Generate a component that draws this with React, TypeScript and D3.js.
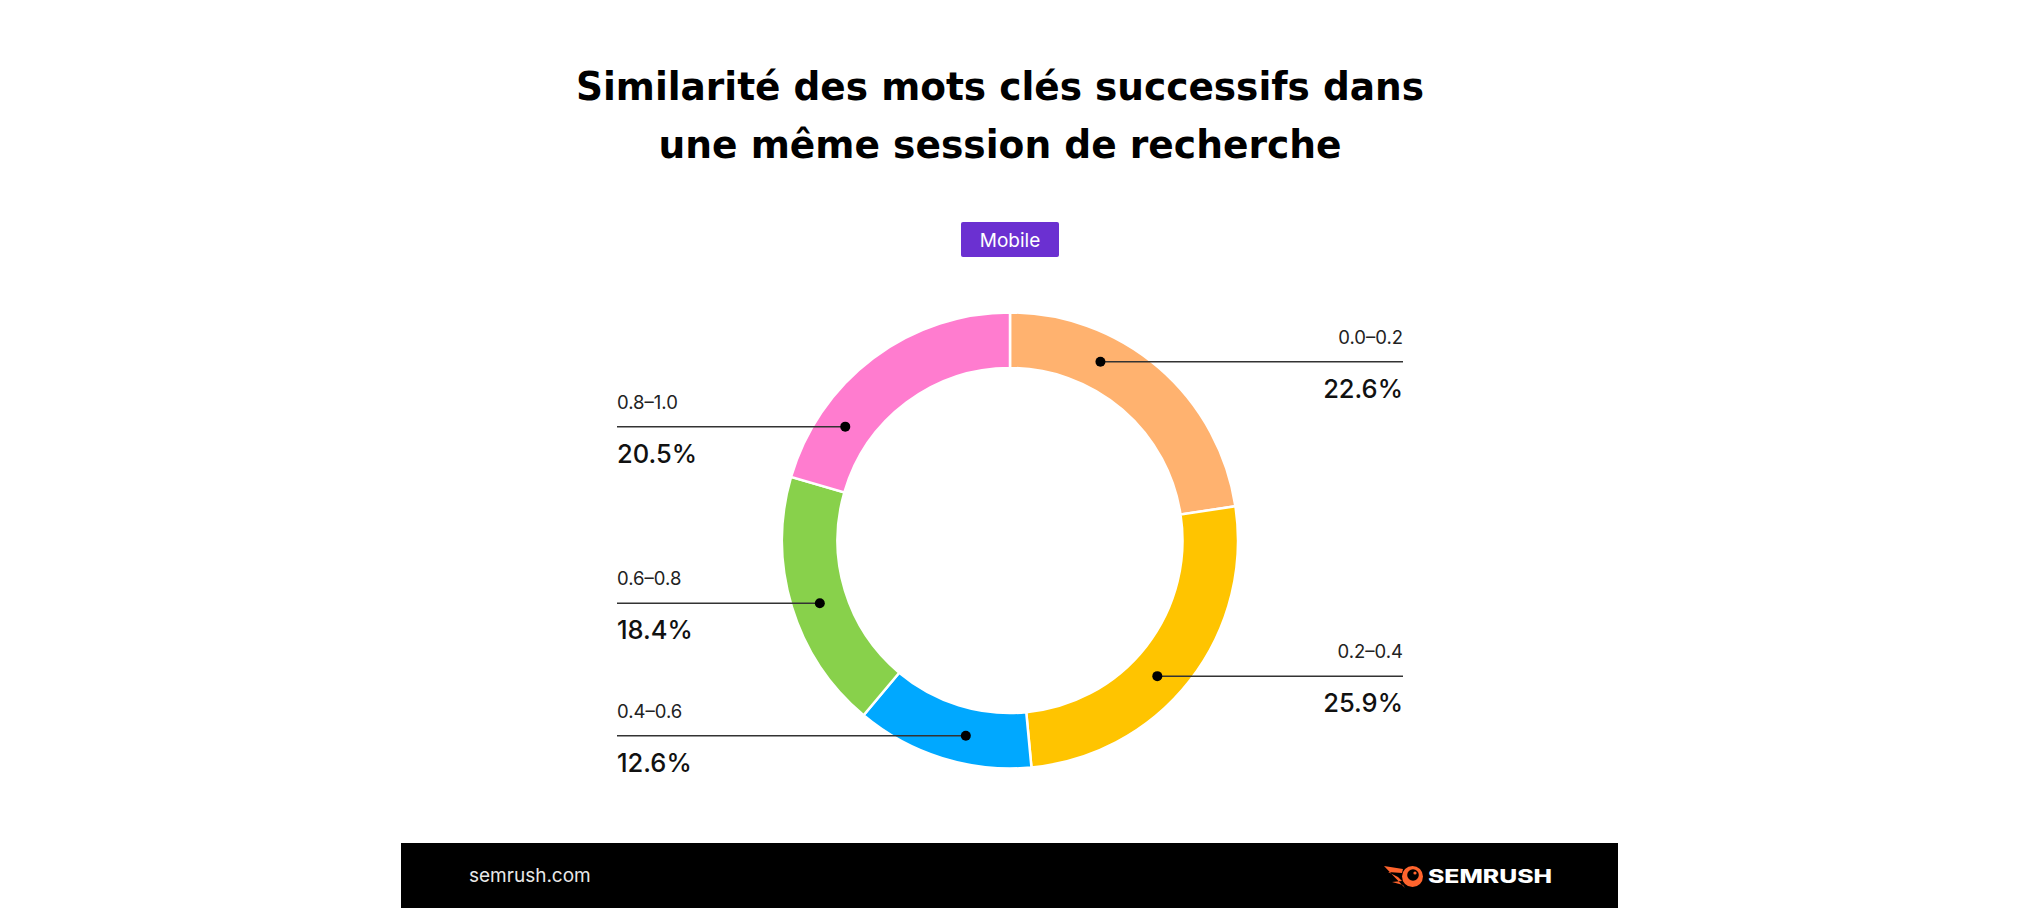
import React from "react";
import * as d3 from "d3";

// data
const categories = ["0.0–0.2", "0.2–0.4", "0.4–0.6", "0.6–0.8", "0.8–1.0"];
const shares = [22.6, 25.9, 12.6, 18.4, 20.5];
// where the leader dot sits inside each slice (0 = start, 1 = end)
const dotFraction = [0.33, 0.55, 0.4, 0.48, 0.25];
const sliceColors = ["#FFB26F", "#FFC400", "#00A8FF", "#88D14B", "#FF7CCF"];

const titleLines = ["Similarité des mots clés successifs dans", "une même session de recherche"];

const W = 2020;
const H = 908;
const cx = 1010;
const cy = 540.5;
const inner = 172.5;
const outer = 228;
const font = "Inter, 'Noto Sans', sans-serif";

function App() {
  const pie = d3
    .pie<number>()
    .sort(null)
    .value((d) => d)
    .startAngle(0)
    .endAngle(2 * Math.PI);
  const arcs = pie(shares);
  const arc = d3.arc<d3.PieArcDatum<number>>().innerRadius(inner).outerRadius(outer);
  const midR = (inner + outer) / 2;

  // leader lines end at these x's (left / right label columns)
  const leftX = 617;
  const rightX = 1403;

  return (
    <svg
      width={W}
      height={H}
      style={{ position: "absolute", left: 0, top: 0, background: "#fff" }}
      fontFamily={font}
    >
      {/* title */}
      <g fontFamily="'DejaVu Sans', sans-serif" fontWeight={700} fontSize={39} fill="#000" textAnchor="middle">
        <text x={1000} y={100} textLength={848} lengthAdjust="spacingAndGlyphs">
          {titleLines[0]}
        </text>
        <text x={1000} y={158} textLength={683} lengthAdjust="spacingAndGlyphs">
          {titleLines[1]}
        </text>
      </g>

      {/* device tag */}
      <rect x={961} y={222} width={98} height={35} rx={2} fill="#6B30D1" />
      <text x={1010} y={246.5} textAnchor="middle" fontSize={19} fill="#fff">
        Mobile
      </text>

      {/* donut */}
      <g transform={`translate(${cx},${cy})`}>
        {arcs.map((a, i) => (
          <path key={i} d={arc(a) || ""} fill={sliceColors[i]} stroke="#fff" strokeWidth={2.5} />
        ))}
      </g>

      {/* leaders + labels */}
      {arcs.map((a, i) => {
        const ang = a.startAngle + dotFraction[i] * (a.endAngle - a.startAngle);
        const dx = cx + midR * Math.sin(ang);
        const dy = cy - midR * Math.cos(ang);
        const mid = (a.startAngle + a.endAngle) / 2;
        const right = mid < Math.PI;
        const tx = right ? rightX : leftX;
        const anchor = right ? "end" : "start";
        return (
          <g key={i}>
            <line x1={dx} y1={dy} x2={tx} y2={dy} stroke="#333" strokeWidth={1.5} />
            <circle cx={dx} cy={dy} r={5} fill="#000" />
            <text x={tx} y={dy - 18} textAnchor={anchor} fontSize={18.5} fill="#222">
              {categories[i]}
            </text>
            <text x={tx} y={dy + 36} textAnchor={anchor} fontSize={25.5} fontWeight={500} fill="#111">
              {d3.format(".1f")(shares[i])}%
            </text>
          </g>
        );
      })}

      {/* footer */}
      <rect x={401} y={843} width={1217} height={65} fill="#000" />
      <text x={469} y={882} fontSize={19} fill="#e8e8e8">
        semrush.com
      </text>
      <g>
        <path
          d="M1384,866 L1403,869 L1402,873 L1388,872 L1398,877 L1402,881 L1392,882 L1403,885 L1405,888 Z"
          fill="#FF642D"
        />
        <circle cx={1412.5} cy={876.5} r={10.5} fill="#FF642D" />
        <circle cx={1413} cy={875} r={5.8} fill="#000" />
        <circle cx={1415} cy={873} r={1.6} fill="#FF642D" />
      </g>
      <text x={1428} y={882.5} fontSize={18.5} fontWeight={800} fill="#fff" textLength={124} lengthAdjust="spacingAndGlyphs">
        SEMRUSH
      </text>
    </svg>
  );
}

export default App;
